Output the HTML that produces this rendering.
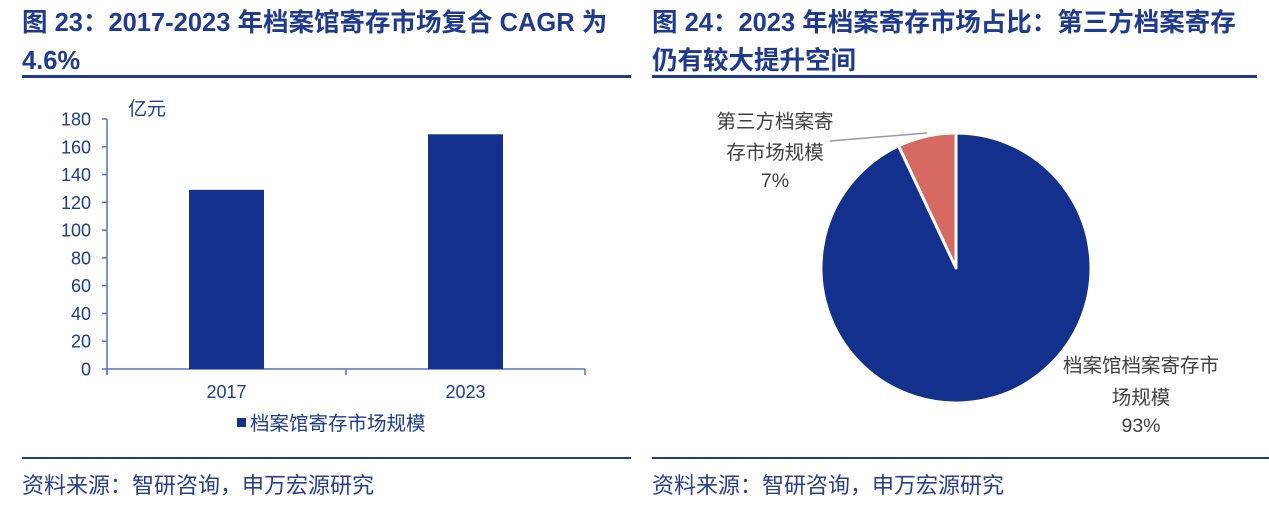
<!DOCTYPE html>
<html><head><meta charset="utf-8"><style>
body{margin:0;background:#fff;width:1269px;height:507px;overflow:hidden;font-family:"Liberation Sans","Noto Sans CJK SC",sans-serif}
</style></head><body>
<svg width="1269" height="507" xmlns="http://www.w3.org/2000/svg">
<g font-family="Liberation Sans, Noto Sans CJK SC, sans-serif">
<text x="22" y="31" font-size="25.5" font-weight="bold" fill="#1f3a8f">图 23：2017-2023 年档案馆寄存市场复合 CAGR 为</text>
<text x="22" y="69" font-size="25.5" font-weight="bold" fill="#1f3a8f">4.6%</text>
<rect x="22" y="75" width="609" height="3" fill="#1f3a8f"/>
<text x="652" y="31" font-size="25.5" font-weight="bold" fill="#1f3a8f">图 24：2023 年档案寄存市场占比：第三方档案寄存</text>
<text x="652" y="69" font-size="25.5" font-weight="bold" fill="#1f3a8f">仍有较大提升空间</text>
<rect x="652" y="75" width="605" height="3" fill="#1f3a8f"/>
<rect x="22" y="457" width="609" height="2" fill="#1f3a8f"/>
<rect x="652" y="457" width="617" height="2" fill="#1f3a8f"/>
<text x="22" y="493" font-size="22" fill="#2a3d8f">资料来源：智研咨询，申万宏源研究</text>
<text x="652" y="493" font-size="22" fill="#2a3d8f">资料来源：智研咨询，申万宏源研究</text>
<g id="bar"></g>
<g id="pie"></g>
</g>
</svg>
<script>
const categories=["2017","2023"];
const values=[129,169];
const yTicks=[0,20,40,60,80,100,120,140,160,180];
const pieLabels=["第三方档案寄存市场规模","档案馆档案寄存市场规模"];
const pieValues=[7,93];
const NS="http://www.w3.org/2000/svg";
function mk(p,t,a,txt){const e=document.createElementNS(NS,t);for(const k in a)e.setAttribute(k,a[k]);if(txt!=null)e.textContent=txt;p.appendChild(e);return e;}
const bar=document.getElementById('bar');
const x0=107,x1=585,yb=369,yt=119,ymax=180;
const y=v=>yb-(v/ymax)*(yb-yt);
const band=(x1-x0)/categories.length;
const ax="#5a6fc0";
let e=mk(bar,'line',{x1:x0,y1:yt,x2:x0,y2:yb+5,stroke:ax,'stroke-width':1.5});

e=mk(bar,'line',{x1:x0,y1:yb,x2:x1,y2:yb,stroke:ax,'stroke-width':1.5});

yTicks.forEach(t=>{
 const l=mk(bar,'line',{x1:x0-5,y1:y(t),x2:x0,y2:y(t),stroke:ax,'stroke-width':1.5});
 
 const tx=mk(bar,'text',{x:x0-16,y:y(t)+6.5,'font-size':18,fill:'#1f3a8f','text-anchor':'end'},t);
 
});
for(let i=0;i<=categories.length;i++){
 const l=mk(bar,'line',{x1:x0+band*i,y1:yb,x2:x0+band*i,y2:yb+6,stroke:ax,'stroke-width':1.5});
 
}
e=mk(bar,'text',{x:128,y:115,'font-size':19,fill:'#1f3a8f'},'亿元');

categories.forEach((c,i)=>{
 const cx=x0+band*(i+0.5),w=75;
 const r=mk(bar,'rect',{x:cx-w/2,y:y(values[i]),width:w,height:yb-y(values[i]),fill:'#13318c'});
 
 const t=mk(bar,'text',{x:cx,y:398,'font-size':18,fill:'#1f3a8f','text-anchor':'middle'},c);
 
});
e=mk(bar,'rect',{x:237,y:418,width:9,height:9,fill:'#13318c'});

e=mk(bar,'text',{x:250,y:430,'font-size':19.5,fill:'#1f3a8f'},'档案馆寄存市场规模');

// pie
const pie=document.getElementById('pie');
const cx=956,cy=268,R=135,colors=["#d66a63","#13318c"];
const total=pieValues.reduce((a,b)=>a+b,0);
let ang=0;
pieValues.forEach((v,i)=>{
 const a0=ang,a1=ang-v/total*2*Math.PI;ang=a1;
 const p=a=>[cx+R*Math.sin(a),cy-R*Math.cos(a)];
 const [sx,sy]=p(a0),[ex,ey]=p(a1);
 const large=(a0-a1)>Math.PI?1:0;
 const s=mk(pie,'path',{d:`M${cx},${cy} L${sx},${sy} A${R},${R} 0 ${large} 0 ${ex},${ey} Z`,fill:colors[i],stroke:'#fff','stroke-width':3,'stroke-linejoin':'round'});
 
});
e=mk(pie,'polyline',{points:'830,141 927,133',fill:'none',stroke:'#999','stroke-width':1.5});

function lbl(lines,x,ys,name){lines.forEach((s,k)=>{const t=mk(pie,'text',{x:x,y:ys[k],'font-size':19.5,fill:'#404040','text-anchor':'middle'},s);});}
lbl([pieLabels[0].slice(0,6),pieLabels[0].slice(6),pieValues[0]+'%'],775,[128,159,187],'slice-label-third-party');
lbl([pieLabels[1].slice(0,8),pieLabels[1].slice(8),pieValues[1]+'%'],1141,[372,404,432],'slice-label-archives');
</script>
</body></html>
